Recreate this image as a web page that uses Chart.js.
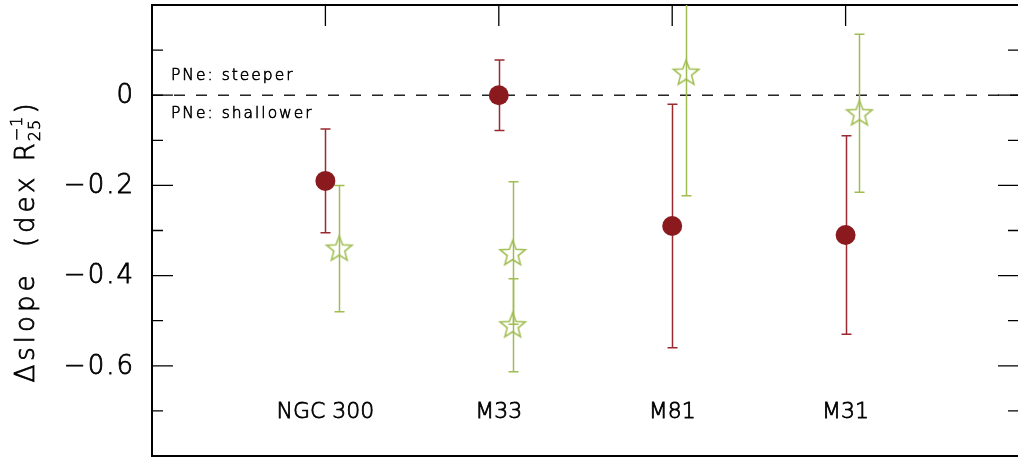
<!DOCTYPE html>
<html>
<head>
<meta charset="utf-8">
<script src="https://cdn.jsdelivr.net/npm/chart.js@4/dist/chart.umd.min.js"></script>
<style>
  html, body { margin: 0; padding: 0; background: #fff; overflow: hidden; }
  #slopeChart { position: absolute; left: 0; top: 0; }
</style>
</head>
<body>
<canvas id="slopeChart" width="1021" height="457"></canvas>
<script>
// Data
const galaxies = ['NGC 300', 'M33', 'M81', 'M31'];
const galaxyX = [1, 2, 3, 4];

// PNe gradients minus HII gradients (filled circles)
const pneX = [1, 2, 3, 4];
const pneSlope = [-0.19, 0.0, -0.29, -0.31];
const pneErr = [0.115, 0.078, 0.27, 0.22];

// second comparison (open stars)
const starX = [1.08, 2.08, 2.08, 3.08, 4.08];
const starSlope = [-0.34, -0.35, -0.51, 0.05, -0.04];
const starErr = [0.14, 0.158, 0.103, 0.273, 0.175];

// Axis ticks
const yMajor = [0, -0.2, -0.4, -0.6];
const yMinor = [0.1, -0.1, -0.3, -0.5, -0.7];
const yLabels = ['0', '\u22120.2', '\u22120.4', '\u22120.6'];
const nameY = -0.7;

const COLORS = {
    RED: '#8b1a1e',
    RED_BAR: '#9a2a2e',
    GREEN: '#9fbd50',
    INK: '#000'
};
const FONT = "'DejaVu Sans', sans-serif";

// thin font, thickened a little so it reads like the original plotter font
function label(ctx, text, x, y) {
    ctx.fillText(text, x, y);
    ctx.strokeText(text, x, y);
}

// Open star marker drawn on its own small canvas
function makeStar(color) {
    const c = document.createElement('canvas');
    c.width = 30; c.height = 30;
    const ctx = c.getContext('2d');
    const R = 13.4, r = 5.7, cx = 15, cy = 15.8;
    ctx.beginPath();
    for (let i = 0; i < 10; i++) {
        const rad = i % 2 === 0 ? R : r;
        const a = -Math.PI / 2 + i * Math.PI / 5;
        const px = cx + rad * Math.cos(a), py = cy + rad * Math.sin(a);
        if (i === 0) ctx.moveTo(px, py); else ctx.lineTo(px, py);
    }
    ctx.closePath();
    ctx.lineWidth = 1.5;
    ctx.strokeStyle = color;
    ctx.stroke();
    return c;
}

// Error bars, drawn under the markers
const errorBars = {
    id: 'errorBars',
    beforeDatasetsDraw(chart) {
        const { ctx, chartArea, scales: { x, y } } = chart;
        ctx.save();
        ctx.beginPath();
        ctx.rect(chartArea.left, chartArea.top, chartArea.right - chartArea.left, chartArea.bottom - chartArea.top);
        ctx.clip();
        const draw = (xs, vals, errs, color) => {
            ctx.strokeStyle = color;
            ctx.lineWidth = 1.5;
            xs.forEach((xv, i) => {
                const px = Math.round(x.getPixelForValue(xv)) + 0.5;
                const top = y.getPixelForValue(vals[i] + errs[i]);
                const bot = y.getPixelForValue(vals[i] - errs[i]);
                ctx.beginPath();
                ctx.moveTo(px, top); ctx.lineTo(px, bot);
                ctx.moveTo(px - 5, top); ctx.lineTo(px + 5, top);
                ctx.moveTo(px - 5, bot); ctx.lineTo(px + 5, bot);
                ctx.stroke();
            });
        };
        draw(pneX, pneSlope, pneErr, COLORS.RED_BAR);
        draw(starX, starSlope, starErr, COLORS.GREEN);
        ctx.restore();
    }
};

// Frame, inward ticks, labels, zero line and notes
const frame = {
    id: 'frame',
    beforeDatasetsDraw(chart) {
        const { ctx, chartArea: a, scales: { x, y } } = chart;
        ctx.save();
        // zero line
        ctx.strokeStyle = COLORS.INK;
        ctx.lineWidth = 1.3;
        ctx.setLineDash([11, 11]);
        ctx.beginPath();
        const y0 = y.getPixelForValue(0);
        ctx.moveTo(a.left, y0); ctx.lineTo(a.right, y0);
        ctx.stroke();
        ctx.setLineDash([]);

        // ticks
        ctx.beginPath();
        yMajor.forEach(v => {
            const py = y.getPixelForValue(v);
            ctx.moveTo(a.left, py); ctx.lineTo(a.left + 21, py);
            ctx.moveTo(a.right, py); ctx.lineTo(a.right - 21, py);
        });
        yMinor.forEach(v => {
            const py = y.getPixelForValue(v);
            ctx.moveTo(a.left, py); ctx.lineTo(a.left + 11, py);
            ctx.moveTo(a.right, py); ctx.lineTo(a.right - 11, py);
        });
        galaxyX.forEach(v => {
            const px = x.getPixelForValue(v);
            ctx.moveTo(px, a.top); ctx.lineTo(px, a.top + 21);
        });
        ctx.stroke();

        // box
        ctx.lineWidth = 2;
        ctx.strokeRect(a.left, a.top, a.right - a.left, a.bottom - a.top);

        // tick labels
        ctx.fillStyle = COLORS.INK;
        ctx.strokeStyle = COLORS.INK;
        ctx.lineWidth = 0.8;
        ctx.font = '200 26px ' + FONT;
        ctx.letterSpacing = '2px';
        ctx.textAlign = 'right';
        ctx.textBaseline = 'middle';
        yMajor.forEach((v, i) => {
            label(ctx, yLabels[i], a.left - 17, y.getPixelForValue(v) + 1);
        });

        // galaxy names inside the plot
        ctx.font = '200 22px ' + FONT;
        ctx.letterSpacing = '0px';
        ctx.textAlign = 'center';
        galaxies.forEach((g, i) => {
            label(ctx, g, x.getPixelForValue(galaxyX[i]), y.getPixelForValue(nameY) + 1);
        });

        // notes either side of the zero line
        ctx.lineWidth = 0.6;
        ctx.font = '200 15.5px ' + FONT;
        ctx.letterSpacing = '2px';
        ctx.textAlign = 'left';
        label(ctx, 'PNe: steeper', a.left + 19, y0 - 19);
        label(ctx, 'PNe: shallower', a.left + 19, y0 + 19);

        // y title with sub/superscript
        ctx.lineWidth = 0.8;
        ctx.letterSpacing = '4px';
        ctx.translate(34, 241);
        ctx.rotate(-Math.PI / 2);
        ctx.textBaseline = 'alphabetic';
        ctx.font = '200 26px ' + FONT;
        const main = '\u0394slope  (dex R';
        const wMain = ctx.measureText(main).width;
        const wParen = ctx.measureText(')').width;
        ctx.font = '200 16px ' + FONT;
        ctx.letterSpacing = '1px';
        const wSub = Math.max(ctx.measureText('25').width, ctx.measureText('\u22121').width);
        const total = wMain + wSub + wParen;
        let cx = -total / 2;
        ctx.font = '200 26px ' + FONT;
        ctx.letterSpacing = '4px';
        label(ctx, main, cx, 0);
        cx += wMain - 2;
        ctx.font = '200 16px ' + FONT;
        ctx.letterSpacing = '1px';
        ctx.lineWidth = 0.6;
        label(ctx, '25', cx, 6);
        label(ctx, '\u22121', cx, -12);
        cx += wSub + 2;
        ctx.font = '200 26px ' + FONT;
        ctx.lineWidth = 0.8;
        label(ctx, ')', cx, 0);
        ctx.restore();
    }
};

new Chart(document.getElementById('slopeChart'), {
    type: 'scatter',
    data: {
        datasets: [{
            label: 'PNe',
            data: pneX.map((v, i) => ({ x: v, y: pneSlope[i] })),
            pointStyle: 'circle',
            pointRadius: 10,
            backgroundColor: COLORS.RED,
            borderColor: COLORS.RED,
            borderWidth: 0
        }, {
            label: 'stars',
            data: starX.map((v, i) => ({ x: v, y: starSlope[i] })),
            pointStyle: makeStar(COLORS.GREEN),
            pointRadius: 13
        }]
    },
    options: {
        responsive: false,
        animation: false,
        events: [],
        layout: { autoPadding: false, padding: { left: 152, right: 2, top: 5, bottom: 1 } },
        plugins: {
            legend: { display: false },
            tooltip: { enabled: false }
        },
        scales: {
            x: { type: 'linear', min: 0, max: 5, display: false },
            y: { type: 'linear', min: -0.8, max: 0.2, display: false }
        }
    },
    plugins: [frame, errorBars]
});
</script>
</body>
</html>
